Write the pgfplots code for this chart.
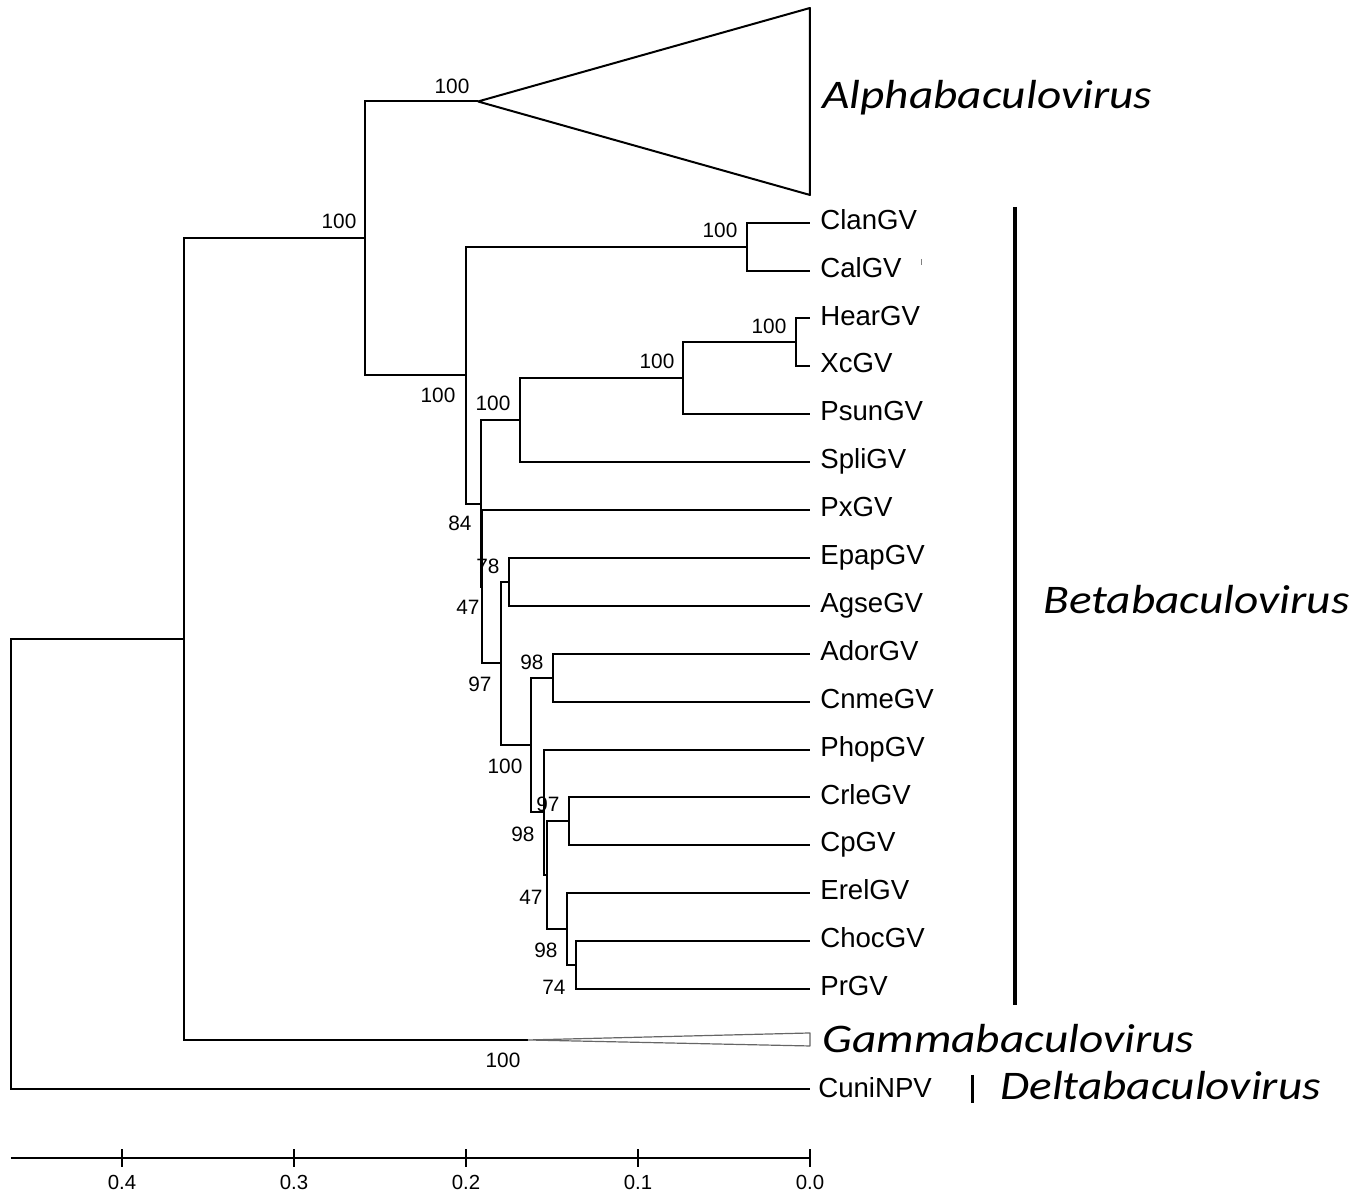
\documentclass[border=0pt]{standalone}
\usepackage{fontspec}
\setmainfont{Liberation Sans}
\newfontfamily\cladefont{Carlito}
\usepackage{pgfplots}
\pgfplotsset{compat=1.18}
\begin{document}
\begin{tikzpicture}
\begin{axis}[
  width=679.5pt, height=596pt, scale only axis,
  xmin=-0.31919, xmax=0.47093, x dir=reverse,
  ymin=-34, ymax=1158,
  axis x line=center, axis y line=none,
  x axis line style={draw=none,-},
  hide obscured x ticks=false,
  xtick={0,0.1,0.2,0.3,0.4},
  xticklabels={0.0,0.1,0.2,0.3,0.4},
  tick align=center, major tick length=9pt,
  tick style={black, line width=1pt},
  xticklabel style={font=\fontsize{10.2}{12}\selectfont, inner sep=0pt, anchor=center, yshift=-7.5pt},
  /pgf/number format/assume math mode=true,
  clip=false,
  every node/.append style={inner sep=0pt},
]
% scale bar
\addplot[black, line width=1pt] coordinates {(0.46453,0) (0,0)};
% tree branches
\pgfplotsset{br/.style={black, line width=1pt, line join=miter, no marks}}
\addplot[br] coordinates {(0.36413,518.85) (0.46453,518.85) (0.46453,69) (0,69)};
\addplot[br] coordinates {(0.25872,919.7) (0.36413,919.7) (0.36413,118) (0.16395,118)};
\addplot[br] coordinates {(0.19302,1056.5) (0.25872,1056.5) (0.25872,782.9) (0.2,782.9)};
\addplot[br] coordinates {(0.03634,911.35) (0.2,911.35) (0.2,654.45) (0.19128,654.45)};
\addplot[br] coordinates {(0,935.3) (0.03634,935.3) (0.03634,887.4) (0,887.4)};
\addplot[br] coordinates {(0.16860,737.7) (0.19128,737.7) (0.19128,571.2) (0.19052,571.2)};
\addplot[br] coordinates {(0.07401,779.6) (0.16860,779.6) (0.16860,695.8) (0,695.8)};
\addplot[br] coordinates {(0.00814,815.55) (0.07401,815.55) (0.07401,743.7) (0,743.7)};
\addplot[br] coordinates {(0,839.5) (0.00814,839.5) (0.00814,791.6) (0,791.6)};
\addplot[br] coordinates {(0,647.9) (0.19052,647.9) (0.19052,494.5) (0.17983,494.5)};
\addplot[br] coordinates {(0.175,576.05) (0.17983,576.05) (0.17983,412.9) (0.16238,412.9)};
\addplot[br] coordinates {(0,600) (0.175,600) (0.175,552.1) (0,552.1)};
\addplot[br] coordinates {(0.14959,480.25) (0.16238,480.25) (0.16238,345.55) (0.15465,345.55)};
\addplot[br] coordinates {(0,504.2) (0.14959,504.2) (0.14959,456.3) (0,456.3)};
\addplot[br] coordinates {(0,408.4) (0.15465,408.4) (0.15465,282.7) (0.15308,282.7)};
\addplot[br] coordinates {(0.13994,336.55) (0.15308,336.55) (0.15308,228.8) (0.14145,228.8)};
\addplot[br] coordinates {(0,360.5) (0.13994,360.5) (0.13994,312.6) (0,312.6)};
\addplot[br] coordinates {(0,264.7) (0.14145,264.7) (0.14145,192.85) (0.13622,192.85)};
\addplot[br] coordinates {(0,216.8) (0.13622,216.8) (0.13622,168.9) (0,168.9)};
% collapsed clades
\addplot[black, line width=1pt, line join=round, no marks] coordinates {(0.19302,1056.5) (0,1150) (0,963) (0.19302,1056.5)};
\addplot[black!60, line width=0.6pt, line join=round, no marks] coordinates {(0.16395,118) (0,125) (0,112) (0.16395,118)};
% group bars
\addplot[black, line width=2pt, no marks] coordinates {(-0.11919,951) (-0.11919,153)};
\addplot[black, line width=1.5pt, no marks] coordinates {(-0.09477,83) (-0.09477,55)};
\addplot[black!50, line width=0.5pt, no marks] coordinates {(-0.06512,899) (-0.06512,893)};
% tip labels
\begin{scope}[every node/.style={anchor=base west, inner sep=0pt, font=\fontsize{13.8}{16}\selectfont}]
\node at (axis cs:-0.00581,928.7) {ClanGV};
\node at (axis cs:-0.00581,880.8) {CalGV};
\node at (axis cs:-0.00581,832.9) {HearGV};
\node at (axis cs:-0.00581,785.0) {XcGV};
\node at (axis cs:-0.00581,737.1) {PsunGV};
\node at (axis cs:-0.00581,689.2) {SpliGV};
\node at (axis cs:-0.00581,641.3) {PxGV};
\node at (axis cs:-0.00581,593.4) {EpapGV};
\node at (axis cs:-0.00581,545.5) {AgseGV};
\node at (axis cs:-0.00581,497.6) {AdorGV};
\node at (axis cs:-0.00581,449.7) {CnmeGV};
\node at (axis cs:-0.00581,401.8) {PhopGV};
\node at (axis cs:-0.00581,353.9) {CrleGV};
\node at (axis cs:-0.00581,306.0) {CpGV};
\node at (axis cs:-0.00581,258.1) {ErelGV};
\node at (axis cs:-0.00581,210.2) {ChocGV};
\node at (axis cs:-0.00581,162.3) {PrGV};
\node at (axis cs:-0.00465,60) {CuniNPV};
\end{scope}
% bootstrap values
\begin{scope}[every node/.style={anchor=center, inner sep=0pt, font=\fontsize{10.4}{12}\selectfont}]
\node at (axis cs:0.20814,1072) {100};
\node at (axis cs:0.27384,937) {100};
\node at (axis cs:0.05233,928) {100};
\node at (axis cs:0.02384,832) {100};
\node at (axis cs:0.08895,797) {100};
\node at (axis cs:0.21628,763) {100};
\node at (axis cs:0.18430,755) {100};
\node at (axis cs:0.20349,635) {84};
\node at (axis cs:0.18721,592) {78};
\node at (axis cs:0.19884,551) {47};
\node at (axis cs:0.19186,474) {97};
\node at (axis cs:0.16163,496) {98};
\node at (axis cs:0.17733,392) {100};
\node at (axis cs:0.15233,354) {97};
\node at (axis cs:0.16686,324) {98};
\node at (axis cs:0.16221,261) {47};
\node at (axis cs:0.15349,208) {98};
\node at (axis cs:0.14884,171) {74};
\node at (axis cs:0.17849,98) {100};
\end{scope}
% clade names
\begin{scope}[every node/.style={anchor=base west, inner sep=0pt, xscale=1.165, font=\cladefont\itshape\fontsize{20.3}{24}\selectfont}]
\node at (axis cs:-0.00698,1049) {Alphabaculovirus};
\node at (axis cs:-0.13547,544) {Betabaculovirus};
\node at (axis cs:-0.00698,105) {Gammabaculovirus};
\node at (axis cs:-0.11047,58) {Deltabaculovirus};
\end{scope}
\end{axis}
\pgfresetboundingbox
\path[use as bounding box] (current axis.south west) rectangle (current axis.north east);
\end{tikzpicture}
\end{document}
